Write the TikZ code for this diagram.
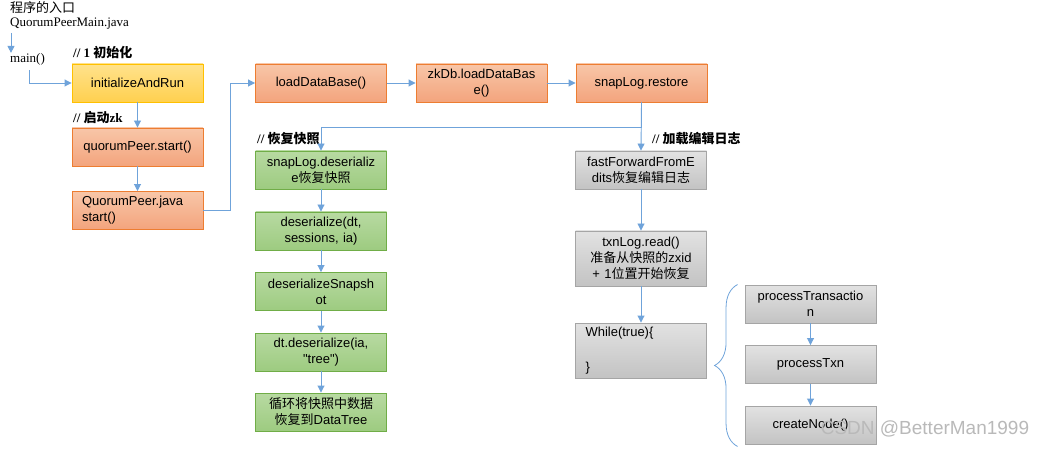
\documentclass[tikz,border=0pt]{standalone}
\usepackage{fontspec}
\setmainfont{Liberation Serif}
\newfontfamily\boxfont{Liberation Sans}
\newfontfamily\cjk{Noto Sans CJK SC}
\usetikzlibrary{arrows.meta, decorations.pathreplacing}

\definecolor{linkblue}{HTML}{6FA3DA}
\definecolor{runline}{HTML}{ED7D31}
\definecolor{runtop}{HTML}{F8C6A8}
\definecolor{runbottom}{HTML}{F3A47D}
\definecolor{initline}{HTML}{FFC000}
\definecolor{inittop}{HTML}{FFE28C}
\definecolor{initbottom}{HTML}{FFD04F}
\definecolor{snapline}{HTML}{70AD47}
\definecolor{snaptop}{HTML}{B8DAA2}
\definecolor{snapbottom}{HTML}{9DCB80}
\definecolor{editline}{HTML}{A5A5A5}
\definecolor{edittop}{HTML}{E2E2E2}
\definecolor{editbottom}{HTML}{C3C3C3}

\newcommand{\zh}[1]{{\cjk #1}}

\begin{document}
\begin{tikzpicture}[
      x=1pt, y=-1pt,
      font=\fontsize{13}{16}\selectfont,
      link/.style={draw=linkblue, line width=0.9pt, -{Triangle[width=7pt, length=7pt]}},
      method/.style={rectangle, draw, line width=0.9pt, inner sep=0pt, minimum width=131pt, minimum height=38pt, text width=125pt, align=center, font=\boxfont\fontsize{13}{16}\selectfont},
      init/.style={method, draw=initline, top color=inittop, bottom color=initbottom},
      run/.style={method, draw=runline, top color=runtop, bottom color=runbottom},
      snap/.style={method, draw=snapline, top color=snaptop, bottom color=snapbottom},
      edit/.style={method, draw=editline, top color=edittop, bottom color=editbottom},
      remark/.style={anchor=west, inner sep=0pt, font=\bfseries\fontsize{13}{16}\selectfont}
  ]
  \useasboundingbox (0,0) rectangle (1047,449);

  \begin{scope}[every node/.style={anchor=west, inner sep=0pt}]
    \node (Entry) at (10,8) {\zh{程序的入口}};
    \node (EntryFile) at (10,24) {QuorumPeerMain.java};
    \node (Main) at (10,59) {main()};
  \end{scope}

  \begin{scope}[every node/.style={run}]
    \node [init] (Init) at (137.5,83) {initializeAndRun};
    \node (Start) at (137.5,147) {quorumPeer.start()};
    \node [align=left, text width=111pt] (PeerStart) at (137.5,210.5) {QuorumPeer.java\\start()};
    \node (LoadDb) at (321,83) {loadDataBase()};
    \node (ZkDb) at (481.5,83) {zkDb.loadDataBas\\e()};
    \node (Restore) at (641.5,83) {snapLog.restore};
  \end{scope}

  \begin{scope}[every node/.style={snap}]
    \node (Deser) at (321,170) {snapLog.deserializ\\e\zh{恢复快照}};
    \node (DeserDt) at (321,231) {deserialize(dt,\\sessions, ia)};
    \node (DeserSnap) at (321,291.5) {deserializeSnapsh\\ot};
    \node (DtDeser) at (321,352) {dt.deserialize(ia,\\"tree")};
    \node (LoopTree) at (321,412) {\zh{循环将快照中数据}\\\zh{恢复到}DataTree};
  \end{scope}

  \begin{scope}[every node/.style={edit}]
    \node (FastFwd) at (641,170) {fastForwardFromE\\dits\zh{恢复编辑日志}};
    \node [minimum height=55pt] (TxnRead) at (641,258.5) {txnLog.read()\\\zh{准备从快照的}zxid\\+ 1\zh{位置开始恢复}};
    \node [minimum height=55pt, align=left, text width=111pt] (WhileLoop) at (641,350.5) {While(true)\{\\[19pt]\}};
    \node (ProcTrans) at (810.5,304) {processTransactio\\n};
    \node (ProcTxn) at (810.5,364.5) {processTxn};
    \node (CreateNode) at (810.5,425) {createNode()};
  \end{scope}

  % comments
  \node [remark] (InitNote) at (73,53) {// 1 \zh{初始化}};
  \node [remark] (StartNote) at (73,118) {// \zh{启动}zk};
  \node [remark] (SnapNote) at (257,139) {// \zh{恢复快照}};
  \node [remark] (EditNote) at (652,139) {// \zh{加载编辑日志}};

  \draw [link] ([shift={(1,3)}]EntryFile.south west) -- ([xshift=1pt]Main.north west);
  \draw [link] ([shift={(2,5)}]Main.south) |- (Init.west);
  \draw [link] (Init) -- (Start);
  \draw [link] (Start) -- (PeerStart);
  \draw [link] (PeerStart.east) -- ++(27,0) |- (LoadDb.west);
  \draw [link] (LoadDb) -- (ZkDb);
  \draw [link] (ZkDb) -- (Restore);
  \draw [link] (Restore.south) -- ++(0,25) -| (Deser.north);
  \draw [link] (Restore.south) -- (FastFwd.north);
  \draw [link] (Deser) -- (DeserDt);
  \draw [link] (DeserDt) -- (DeserSnap);
  \draw [link] (DeserSnap) -- (DtDeser);
  \draw [link] (DtDeser) -- (LoopTree);
  \draw [link] (FastFwd) -- (TxnRead);
  \draw [link] (TxnRead) -- (WhileLoop);
  \draw [link] (ProcTrans) -- (ProcTxn);
  \draw [link] (ProcTxn) -- (CreateNode);

  % loop body
  \draw [linkblue, line width=0.8pt, decorate, decoration={brace, amplitude=23pt}]
    ([shift={(-7,2)}]CreateNode.south west) -- ([xshift=-7pt]ProcTrans.north west);

  \node [font=\boxfont\fontsize{19}{22}\selectfont, text=gray!55, inner sep=0pt] (Watermark) at (925,429) {CSDN @BetterMan1999};
\end{tikzpicture}
\end{document}
